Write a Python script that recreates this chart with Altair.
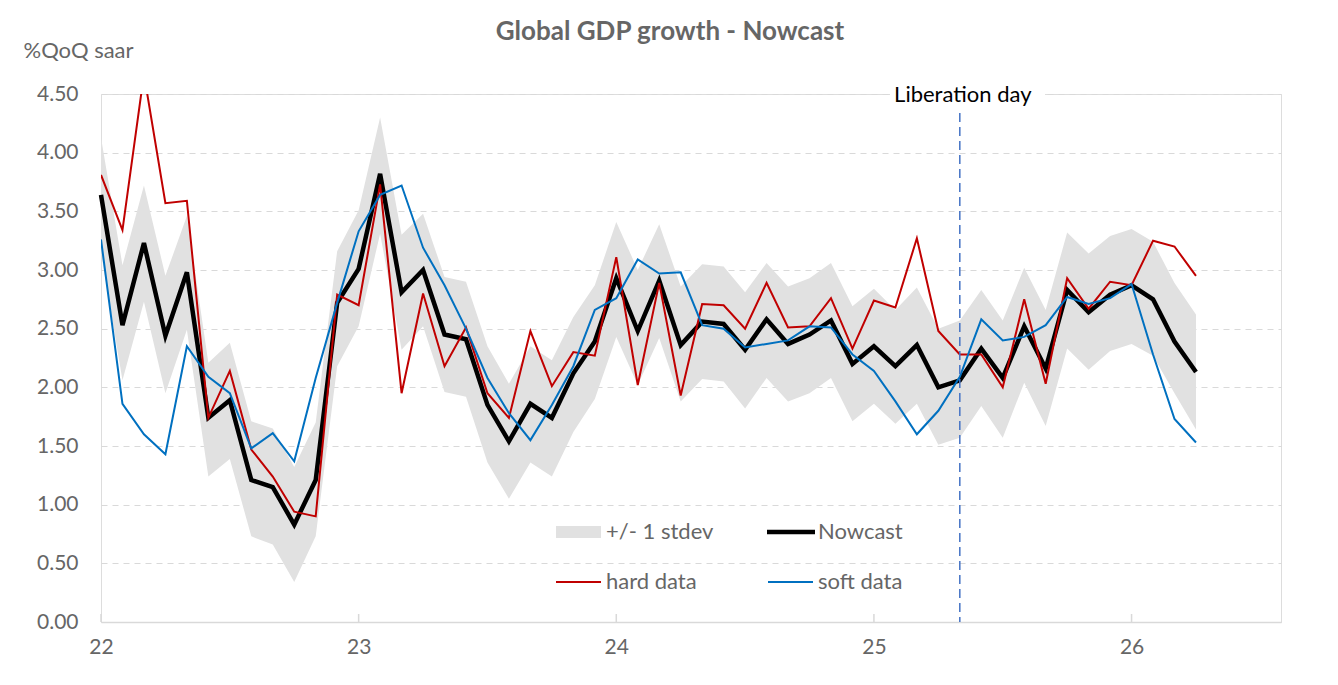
import altair as alt
import pandas as pd

# Monthly observations, Jan 2022 .. Apr 2026
months = [f"{2022 + i // 12}-{i % 12 + 1:02d}" for i in range(52)]

nowcast = [3.64, 2.53, 3.23, 2.44, 2.98, 1.74, 1.89, 1.21, 1.15, 0.83, 1.21, 2.72,
           3.01, 3.82, 2.81, 3.00, 2.45, 2.41, 1.85, 1.54, 1.86, 1.74, 2.12, 2.39,
           2.93, 2.48, 2.91, 2.36, 2.56, 2.54, 2.32, 2.58, 2.37, 2.45, 2.57, 2.20,
           2.35, 2.18, 2.36, 2.00, 2.06, 2.33, 2.08, 2.52, 2.16, 2.83, 2.64, 2.79,
           2.87, 2.75, 2.39, 2.13]
hard = [3.81, 3.34, 4.67, 3.57, 3.59, 1.74, 2.14, 1.47, 1.24, 0.94, 0.90, 2.79,
        2.70, 3.73, 1.95, 2.80, 2.18, 2.51, 1.95, 1.74, 2.48, 2.01, 2.30, 2.27,
        3.11, 2.02, 2.89, 1.93, 2.71, 2.70, 2.50, 2.89, 2.51, 2.52, 2.76, 2.33,
        2.74, 2.68, 3.27, 2.48, 2.28, 2.28, 2.00, 2.75, 2.03, 2.93, 2.67, 2.90,
        2.87, 3.25, 3.20, 2.95]
soft = [3.26, 1.86, 1.60, 1.43, 2.35, 2.09, 1.95, 1.48, 1.61, 1.37, 2.08, 2.72,
        3.33, 3.64, 3.72, 3.19, 2.87, 2.50, 2.08, 1.78, 1.55, 1.85, 2.18, 2.66,
        2.76, 3.09, 2.97, 2.98, 2.53, 2.50, 2.34, 2.37, 2.40, 2.52, 2.51, 2.28,
        2.14, 1.88, 1.60, 1.80, 2.09, 2.58, 2.40, 2.43, 2.53, 2.77, 2.71, 2.76,
        2.88, 2.28, 1.73, 1.53]
band_upper = [4.13, 3.04, 3.72, 2.95, 3.46, 2.21, 2.38, 1.71, 1.65, 1.32, 1.70, 3.16,
              3.51, 4.30, 3.30, 3.48, 2.94, 2.90, 2.35, 2.03, 2.35, 2.23, 2.60, 2.87,
              3.41, 3.00, 3.39, 2.86, 3.05, 3.03, 2.81, 3.06, 2.86, 2.93, 3.06, 2.69,
              2.84, 2.66, 2.85, 2.50, 2.57, 2.83, 2.57, 3.02, 2.66, 3.32, 3.14, 3.29,
              3.35, 3.24, 2.89, 2.62]
band_lower = [3.15, 2.06, 2.73, 1.95, 2.49, 1.24, 1.39, 0.73, 0.66, 0.34, 0.73, 2.18,
              2.52, 3.31, 2.32, 2.52, 1.96, 1.92, 1.36, 1.05, 1.36, 1.24, 1.62, 1.90,
              2.43, 2.02, 2.42, 1.88, 2.07, 2.05, 1.82, 2.08, 1.88, 1.95, 2.08, 1.71,
              1.86, 1.69, 1.86, 1.51, 1.57, 1.84, 1.57, 2.04, 1.67, 2.33, 2.15, 2.31,
              2.37, 2.27, 1.95, 1.64]
year_ticks = [22, 23, 24, 25, 26]
y_ticks = [0, 0.5, 1.0, 1.5, 2.0, 2.5, 3.0, 3.5, 4.0, 4.5]
liberation_day = [{"t": 25 + 4 / 12, "label": "Liberation day"}]

FONT = "Lato"
GREY_TXT = "#666666"

def to_t(m):
    y, mo = m.split("-")
    return int(y) - 2000 + (int(mo) - 1) / 12

df = pd.DataFrame({
    "t": [to_t(m) for m in months],
    "nowcast": nowcast, "hard": hard, "soft": soft,
    "upper": band_upper, "lower": band_lower,
})

W, H = 1180, 528
xscale = alt.Scale(domain=[22, 26.58], nice=False, zero=False)
yscale = alt.Scale(domain=[0, 4.5], nice=False)

xaxis = alt.Axis(values=year_ticks, format="d", grid=False, ticks=False,
                 domain=True, domainColor="#d9d9d9", domainWidth=1.5,
                 labelFont=FONT, labelFontSize=21, labelColor=GREY_TXT,
                 labelPadding=14, labelFlush=False)
yaxis = alt.Axis(values=y_ticks, format=".2f", grid=True, gridDash=[6, 5],
                 gridColor="#d9d9d9", gridWidth=1.2, domain=False, ticks=False,
                 labelFont=FONT, labelFontSize=21, labelColor=GREY_TXT,
                 labelPadding=23, title="%QoQ saar", titleAngle=0,
                 titleX=-78, titleY=-37, titleAlign="left",
                 titleBaseline="alphabetic", titleFont=FONT, titleFontSize=22,
                 titleFontWeight="normal", titleColor=GREY_TXT)

base = alt.Chart(df)

band = base.mark_area(color="#e1e1e1").encode(
    x=alt.X("t:Q", scale=xscale, axis=xaxis, title=None),
    y=alt.Y("lower:Q", scale=yscale, axis=yaxis),
    y2="upper:Q",
)
now_line = base.mark_line(color="black", strokeWidth=4.5).encode(
    x="t:Q", y="nowcast:Q")
hard_line = base.mark_line(color="#C00000", strokeWidth=2, clip=True).encode(
    x="t:Q", y="hard:Q")
soft_line = base.mark_line(color="#0070C0", strokeWidth=2, clip=True).encode(
    x="t:Q", y="soft:Q")

tick_marks = alt.Chart(pd.DataFrame({"t": year_ticks})).mark_rule(
    color="#d9d9d9", strokeWidth=1.5).encode(
    x="t:Q", y=alt.value(H - 8), y2=alt.value(H))

lib_df = pd.DataFrame(liberation_day)
lib_rule = alt.Chart(lib_df).mark_rule(
    color="#4472C4", strokeWidth=1.5, strokeDash=[9, 5]).encode(
    x="t:Q", y=alt.value(19), y2=alt.value(H))
lib_bg = alt.Chart(lib_df).mark_rect(color="white").encode(
    x=alt.value(789), x2=alt.value(944), y=alt.value(-10), y2=alt.value(11))
lib_text = alt.Chart(lib_df).mark_text(
    font=FONT, fontSize=22, color="black", baseline="middle", dx=3).encode(
    x="t:Q", y=alt.value(1), text="label:N")

# custom legend (2 x 2)
one = alt.Data(values=[{"a": 1}])
leg_txt = dict(font=FONT, fontSize=22, color=GREY_TXT, align="left", baseline="middle")
leg = [
    alt.Chart(one).mark_rect(color="#e1e1e1").encode(
        x=alt.value(455), x2=alt.value(500), y=alt.value(432), y2=alt.value(444)),
    alt.Chart(one).mark_text(text="+/- 1 stdev", **leg_txt).encode(
        x=alt.value(505), y=alt.value(438)),
    alt.Chart(one).mark_rule(color="black", strokeWidth=4.5).encode(
        x=alt.value(666), x2=alt.value(714), y=alt.value(438)),
    alt.Chart(one).mark_text(text="Nowcast", **leg_txt).encode(
        x=alt.value(717), y=alt.value(438)),
    alt.Chart(one).mark_rule(color="#C00000", strokeWidth=2).encode(
        x=alt.value(455), x2=alt.value(500), y=alt.value(488)),
    alt.Chart(one).mark_text(text="hard data", **leg_txt).encode(
        x=alt.value(505), y=alt.value(488)),
    alt.Chart(one).mark_rule(color="#0070C0", strokeWidth=2).encode(
        x=alt.value(667), x2=alt.value(712), y=alt.value(488)),
    alt.Chart(one).mark_text(text="soft data", **leg_txt).encode(
        x=alt.value(717), y=alt.value(488)),
]

chart = alt.layer(
    band, tick_marks, now_line, hard_line, soft_line,
    lib_rule, lib_bg, lib_text, *leg,
).properties(
    width=W, height=H,
    title=alt.TitleParams("Global GDP growth - Nowcast", font=FONT, fontSize=26,
                          fontWeight="bold", color=GREY_TXT, anchor="middle",
                          frame="group", dx=-21, dy=10, offset=4),
    autosize=alt.AutoSizeParams(type="none"),
    padding={"left": 93, "top": 86, "right": 40, "bottom": 40},
).configure_view(stroke=None).configure(background="white")

chart.save("out.html", embed_options={"renderer": "svg", "actions": False})
